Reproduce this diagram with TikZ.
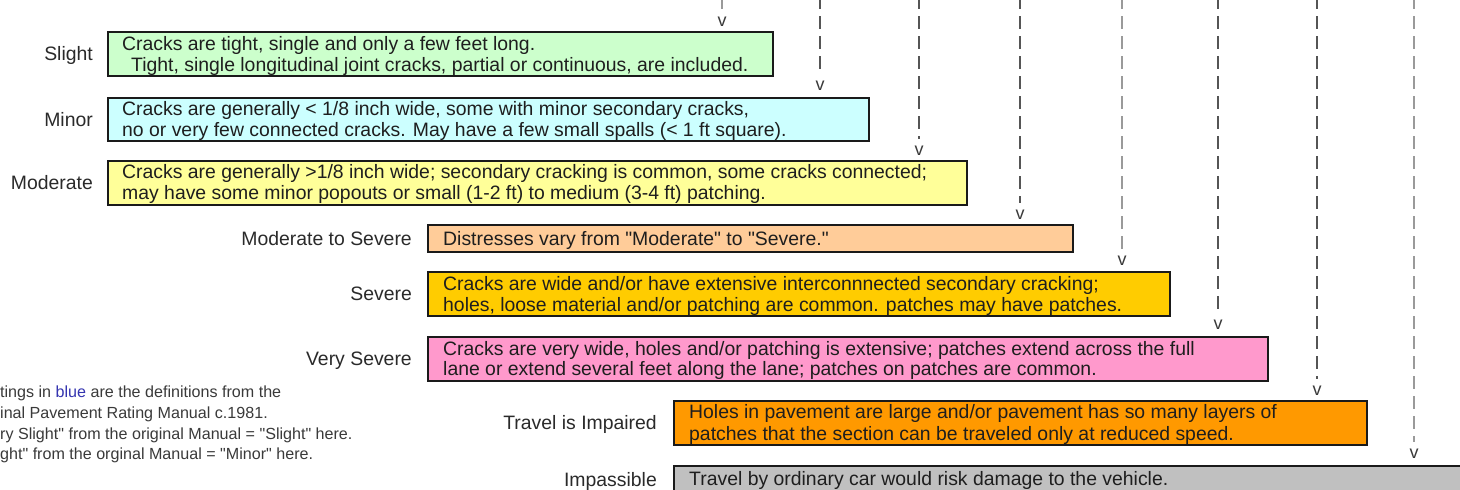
\documentclass[tikz,border=0pt]{standalone}
\usepackage{fontspec}
\setmainfont{Liberation Sans}[Ligatures=TeXOff]
\usetikzlibrary{calc}
\definecolor{cslight}{HTML}{CCFFCC}
\definecolor{cminor}{HTML}{CCFFFF}
\definecolor{cmoderate}{HTML}{FFFF99}
\definecolor{cmodsev}{HTML}{FFCC99}
\definecolor{csevere}{HTML}{FFCC00}
\definecolor{cvsevere}{HTML}{FF99CC}
\definecolor{cimpaired}{HTML}{FF9900}
\definecolor{cimpass}{HTML}{C0C0C0}
\definecolor{boxedge}{HTML}{1A1A1A}
\definecolor{textdark}{HTML}{1E1E1E}
\definecolor{lbldark}{HTML}{2A2A2A}
\definecolor{darkdash}{HTML}{555555}
\definecolor{lightdash}{HTML}{9A9A9A}
\definecolor{vcol}{HTML}{3A3A3A}
\definecolor{notecol}{HTML}{3A3A3A}
\definecolor{noteblue}{HTML}{3535B0}
\begin{document}
\begin{tikzpicture}[x=1pt,y=-1pt,
  box/.style={draw=boxedge, line width=2.4pt, anchor=north west, inner sep=0pt},
  txt/.style={anchor=base west, inner sep=0pt, text=textdark, font=\fontsize{19.4}{21.5}\selectfont},
  lbl/.style={anchor=base east, inner sep=0pt, text=lbldark, font=\fontsize{19.4}{21.5}\selectfont},
  vmark/.style={inner sep=0pt, font=\fontsize{18}{18}\selectfont, text=vcol},
  dline/.style={dash pattern=on 13pt off 7pt, line width=2pt, draw=darkdash, shorten >=7pt},
  ldline/.style={dline, draw=lightdash},
  note/.style={anchor=base west, inner sep=0pt, text=notecol, font=\fontsize{16.1}{20}\selectfont}]
\clip (0,0) rectangle (1460,490);
\fill[white] (0,0) rectangle (1460,490);

% boxes
\node[box, fill=cslight,   minimum width=665pt, minimum height=44pt] (slight)   at (107,31)  {};
\node[box, fill=cminor,    minimum width=761pt, minimum height=43pt] (minor)    at (107,97)  {};
\node[box, fill=cmoderate, minimum width=859pt, minimum height=44pt] (moderate) at (107,160) {};
\node[box, fill=cmodsev,   minimum width=645pt, minimum height=27pt] (modsev)   at (427,224) {};
\node[box, fill=csevere,   minimum width=742pt, minimum height=44pt] (severe)   at (427,271) {};
\node[box, fill=cvsevere,  minimum width=840pt, minimum height=44pt] (vsevere)  at (427,336) {};
\node[box, fill=cimpaired, minimum width=693pt, minimum height=44pt] (impaired) at (673,400) {};
\node[box, fill=cimpass,   minimum width=820pt, minimum height=28pt] (impass)   at (673,465) {};

% box texts
\node[txt] (t1a) at ([shift={(15,19)}]slight.north west) {Cracks are tight, single and only a few feet long.};
\node[txt] (t1b) at ([shift={(24,40)}]slight.north west) {Tight, single longitudinal joint cracks, partial or continuous, are included.};
\node[txt] (t2a) at ([shift={(15,18)}]minor.north west) {Cracks are generally < 1/8 inch wide, some with minor secondary cracks,};
\node[txt] (t2b) at ([shift={(15,39)}]minor.north west) {no or very few connected cracks. May have a few small spalls (< 1 ft square).};
\node[txt] (t3a) at ([shift={(15,18)}]moderate.north west) {Cracks are generally >1/8 inch wide; secondary cracking is common, some cracks connected;};
\node[txt] (t3b) at ([shift={(15,39)}]moderate.north west) {may have some minor popouts or small (1-2 ft) to medium (3-4 ft) patching.};
\node[txt] (t4a) at ([shift={(16,21)}]modsev.north west) {Distresses vary from "Moderate" to "Severe."};
\node[txt] (t5a) at ([shift={(16,19)}]severe.north west) {Cracks are wide and/or have extensive interconnnected secondary cracking;};
\node[txt] (t5b) at ([shift={(16,40)}]severe.north west) {holes, loose material and/or patching are common. patches may have patches.};
\node[txt] (t6a) at ([shift={(16,19)}]vsevere.north west) {Cracks are very wide, holes and/or patching is extensive; patches extend across the full};
\node[txt] (t6b) at ([shift={(16,39)}]vsevere.north west) {lane or extend several feet along the lane; patches on patches are common.};
\node[txt] (t7a) at ([shift={(16,18)}]impaired.north west) {Holes in pavement are large and/or pavement has so many layers of};
\node[txt] (t7b) at ([shift={(16,40)}]impaired.north west) {patches that the section can be traveled only at reduced speed.};
\node[txt] (t8a) at ([shift={(16,20)}]impass.north west) {Travel by ordinary car would risk damage to the vehicle.};

% labels
\node[lbl] (l1) at ([shift={(-14,6.5)}]slight.west)   {Slight};
\node[lbl] (l2) at ([shift={(-14,6.5)}]minor.west)    {Minor};
\node[lbl] (l3) at ([shift={(-14,6.5)}]moderate.west) {Moderate};
\node[lbl] (l4) at ([shift={(-15,6.5)}]modsev.west)   {Moderate to Severe};
\node[lbl] (l5) at ([shift={(-15,6.5)}]severe.west)   {Severe};
\node[lbl] (l6) at ([shift={(-15,6.5)}]vsevere.west)  {Very Severe};
\node[lbl] (l7) at ([shift={(-16,6.5)}]impaired.west) {Travel is Impaired};
\node[lbl] (l8) at ([shift={(-16,6.5)}]impass.west)   {Impassible};

% v marks and dashed leaders
\node[vmark] (v1) at (722,22)  {v};
\node[vmark] (v2) at (820,86)  {v};
\node[vmark] (v3) at (919,151) {v};
\node[vmark] (v4) at (1020,215) {v};
\node[vmark] (v5) at (1122,261) {v};
\node[vmark] (v6) at (1218,325) {v};
\node[vmark] (v7) at (1317,391) {v};
\node[vmark] (v8) at (1414,454) {v};
\coordinate (top1) at (722,-4);
\coordinate (top2) at (820,-4);
\coordinate (top3) at (919,-4);
\coordinate (top4) at (1020,-4);
\coordinate (top5) at (1122,-4);
\coordinate (top6) at (1218,-4);
\coordinate (top7) at (1317,-4);
\coordinate (top8) at (1414,-4);
\draw[ldline] (top1) -- (v1.north);
\draw[dline]  (top2) -- (v2.north);
\draw[dline]  (top3) -- (v3.north);
\draw[dline]  (top4) -- (v4.north);
\draw[ldline] (top5) -- (v5.north);
\draw[dline]  (top6) -- (v6.north);
\draw[dline]  (top7) -- (v7.north);
\draw[ldline] (top8) -- (v8.north);

% note
\node[note] (n1) at (0,397.5) {tings in \textcolor{noteblue}{blue} are the definitions from the};
\node[note] (n2) at (0,418)   {inal Pavement Rating Manual c.1981.};
\node[note] (n3) at (0,439)   {ry Slight" from the original Manual = "Slight" here.};
\node[note] (n4) at (0,459.5) {ght" from the orginal Manual = "Minor" here.};
\end{tikzpicture}
\end{document}
